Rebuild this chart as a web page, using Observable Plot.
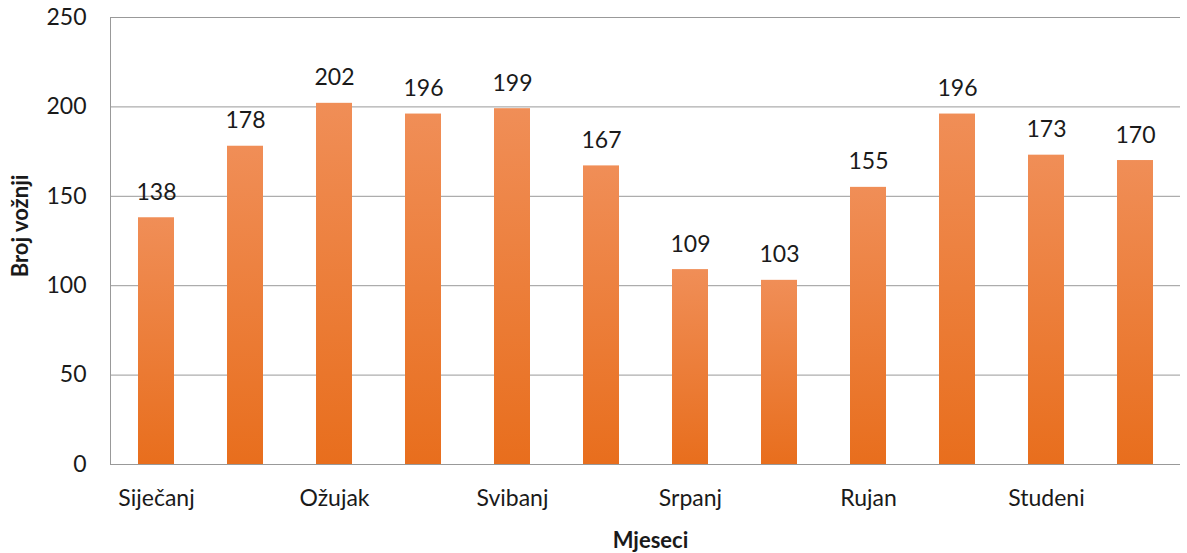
<!DOCTYPE html>
<html>
<head>
<meta charset="utf-8">
<script src="https://cdn.jsdelivr.net/npm/d3@7"></script>
<script src="https://cdn.jsdelivr.net/npm/@observablehq/plot@0.6"></script>
<style>
  html, body { margin: 0; padding: 0; background: #fff; }
  #chart { width: 1187px; height: 553px; }
</style>
</head>
<body>
<div id="chart"></div>
<script>
const months = ["Siječanj","Veljača","Ožujak","Travanj","Svibanj","Lipanj","Srpanj","Kolovoz","Rujan","Listopad","Studeni","Prosinac"];
const rides = [138, 178, 202, 196, 199, 167, 109, 103, 155, 196, 173, 170];
const shownMonths = ["Siječanj","Ožujak","Svibanj","Srpanj","Rujan","Studeni"];
const yTicks = [0, 50, 100, 150, 200, 250];
const yTitle = "Broj vožnji";
const xTitle = "Mjeseci";

const data = months.map((m, i) => ({month: m, value: rides[i]}));
const font = "Lato, 'Open Sans', sans-serif";

const defs = () => {
  const ns = "http://www.w3.org/2000/svg";
  const d = document.createElementNS(ns, "defs");
  const g = document.createElementNS(ns, "linearGradient");
  g.setAttribute("id", "barGrad");
  g.setAttribute("x1", "0"); g.setAttribute("y1", "0");
  g.setAttribute("x2", "0"); g.setAttribute("y2", "1");
  [["0%", "#f08e57"], ["100%", "#e86e1d"]].forEach(([o, c]) => {
    const s = document.createElementNS(ns, "stop");
    s.setAttribute("offset", o); s.setAttribute("stop-color", c);
    g.appendChild(s);
  });
  d.appendChild(g);
  return d;
};

const chart = Plot.plot({
  width: 1187,
  height: 553,
  marginLeft: 110,
  marginRight: 7,
  marginTop: 17,
  marginBottom: 89,
  style: {fontFamily: font, fontSize: "23px", color: "#1a1a1a", background: "#fff"},
  x: {domain: months, paddingInner: 0.6, paddingOuter: 0.3, label: null},
  y: {domain: [0, 250], label: null},
  marks: [
    defs,
    Plot.gridY(yTicks, {stroke: "#999999", strokeOpacity: 1, strokeWidth: 1}),
    Plot.frame({anchor: "left", stroke: "#999999"}),
    Plot.barY(data, {x: "month", y: "value", fill: "url(#barGrad)"}),
    Plot.ruleY([0], {stroke: "#999999"}),
    Plot.axisY(yTicks, {tickSize: 0, tickPadding: 24, fontSize: 23, label: null}),
    Plot.axisX(shownMonths, {tickSize: 0, tickPadding: 25, fontSize: 23, label: null}),
    Plot.text(data, {x: "month", y: "value", text: d => String(d.value), lineAnchor: "bottom", dy: -18, fontSize: 23, fill: "#1a1a1a"}),
    Plot.text([yTitle], {frameAnchor: "left", textAnchor: "middle", lineAnchor: "middle", dx: -90, dy: -15, rotate: -90, text: d => d, fontWeight: "bold", fontSize: 22, fill: "#1a1a1a"}),
    Plot.text([xTitle], {frameAnchor: "bottom", dx: 5, dy: 83, text: d => d, fontWeight: "bold", fontSize: 22, fill: "#1a1a1a"})
  ]
});
document.getElementById("chart").appendChild(chart);
</script>
</body>
</html>
